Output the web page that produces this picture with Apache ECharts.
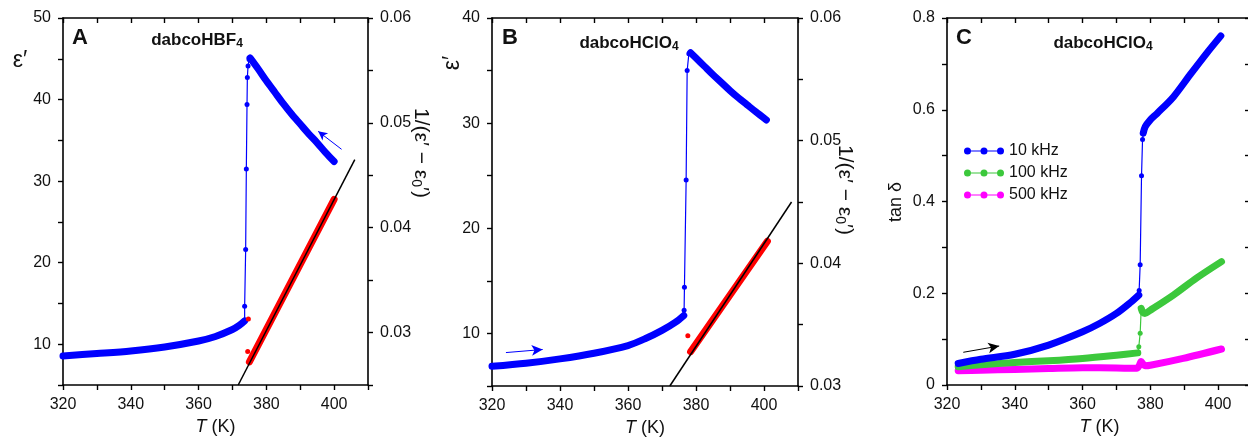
<!DOCTYPE html>
<html>
<head>
<meta charset="utf-8">
<title>dabco dielectric</title>
<script src="https://cdn.jsdelivr.net/npm/echarts@6/dist/echarts.min.js"></script>
<style>
html, body { margin: 0; padding: 0; background: #fff; }
#chart { width: 1248px; height: 439px; }
</style>
</head>
<body>
<div id="chart"></div>
<script>
// A: dabcoHBF4, eps' (left axis) and 1/(eps' - eps0') (right axis)
var epsLowA = [[320, 8.57], [330, 8.86], [340, 9.18], [350, 9.67], [360, 10.4], [365, 10.95], [370, 11.8], [372, 12.3], [373.6, 12.86]];
var epsJumpA = [[373.6, 12.86], [373.6, 14.66], [373.9, 21.6], [374.1, 31.5], [374.3, 39.4], [374.4, 42.7], [374.6, 44.1], [374.9, 44.9], [375.2, 45.1]];
var epsHighA = [[375.2, 45.1], [377.5, 43.8], [380, 42.3], [382.5, 40.9], [385, 39.5], [387.5, 38.2], [390, 37.0], [392.5, 35.8], [395, 34.7], [397.5, 33.5], [400, 32.4]];
var invDotsA = [[374.7, 0.0313], [374.5, 0.0282]];
var invA = [[375.0, 0.0272], [400, 0.0427]];
var fitA = [[371.7, 0.025], [406.1, 0.0465]];
var arrowA = [[402.2, 33.9], [395.3, 36.1]];

// B: dabcoHClO4
var epsLowB = [[320, 6.87], [330, 7.16], [340, 7.58], [350, 8.12], [360, 8.85], [365, 9.49], [370, 10.29], [374, 11.08], [376.4, 11.7]];
var epsJumpB = [[376.4, 11.7], [376.5, 12.2], [376.6, 14.4], [377.1, 24.6], [377.4, 35.0], [377.9, 36.6], [378.4, 36.7]];
var epsHighB = [[378.4, 36.7], [380, 36.2], [382.5, 35.4], [385, 34.6], [387.5, 33.85], [390, 33.1], [392.5, 32.4], [395, 31.75], [397.5, 31.1], [400.7, 30.3]];
var invDotsB = [[377.6, 0.0341]];
var invB = [[378.4, 0.0328], [401, 0.0418]];
var fitB = [[372.3, 0.030], [408.1, 0.0450]];
var arrowB = [[324.1, 8.18], [334.9, 8.47]];

// C: tan delta of dabcoHClO4 at three frequencies
var tan10Low = [[323.3, 0.047], [330, 0.056], [340, 0.067], [350, 0.087], [360, 0.116], [365, 0.134], [370, 0.156], [374, 0.179], [376.6, 0.196]];
var tan10Jump = [[376.6, 0.196], [376.7, 0.206], [377.0, 0.262], [377.4, 0.456], [377.7, 0.535], [377.9, 0.549]];
var tan10High = [[377.9, 0.549], [378.5, 0.563], [380, 0.578], [382, 0.592], [386.8, 0.628], [391.7, 0.676], [396.6, 0.723], [400.8, 0.761]];
var tan100Low = [[323.3, 0.040], [330, 0.044], [340, 0.049], [350, 0.053], [360, 0.058], [370, 0.065], [376.3, 0.070]];
var tan100Jump = [[376.3, 0.070], [376.6, 0.0835], [377.0, 0.113], [377.3, 0.165]];
var tan100High = [[377.3, 0.167], [377.8, 0.158], [378.4, 0.156], [380, 0.163], [386.8, 0.196], [393.6, 0.233], [401, 0.269]];
var tan500 = [[323.3, 0.031], [330, 0.032], [340, 0.034], [350, 0.036], [360, 0.0377], [370, 0.037], [376, 0.0364], [376.7, 0.042], [377.3, 0.051], [377.8, 0.046], [378.4, 0.042], [380, 0.043], [389.7, 0.058], [401, 0.0785]];
var arrowC = [[324.8, 0.0713], [335.4, 0.085]];

var freqNames = ['10 kHz', '100 kHz', '500 kHz'];

var FONT = 'Liberation Sans, Arial, Helvetica, sans-serif';
var BLUE = '#0000ff', RED = '#ff0000', GREEN = '#3cc83c', MAGENTA = '#ff00ff';

function onStep(v, step) {
  return Math.abs(v / step - Math.round(v / step)) < 1e-6;
}

function bottomAxis(g) {
  return {
    type: 'value', gridIndex: g, position: 'bottom', min: 320, max: 410, interval: 10,
    name: '{i|T} (K)', nameLocation: 'middle', nameGap: 32,
    nameTextStyle: { fontFamily: FONT, fontSize: 18, color: '#111',
      rich: { i: { fontFamily: FONT, fontSize: 18, fontStyle: 'italic', color: '#111' } } },
    axisLine: { onZero: false, lineStyle: { color: '#000', width: 1.6 } },
    axisTick: { inside: false, length: 5, lineStyle: { color: '#000', width: 1.4 } },
    axisLabel: { margin: 12, fontFamily: FONT, fontSize: 16, color: '#111',
      formatter: function (v) { return onStep(v, 20) ? String(v) : ''; } },
    splitLine: { show: false }
  };
}

function topAxis(g) {
  return {
    type: 'value', gridIndex: g, position: 'top', min: 320, max: 410, interval: 10,
    axisLine: { onZero: false, lineStyle: { color: '#000', width: 1.6 } },
    axisTick: { inside: true, length: 5, lineStyle: { color: '#000', width: 1.4 } },
    axisLabel: { show: false },
    splitLine: { show: false }
  };
}

function yAxis(g, pos, min, max, step, labelStep, digits, tickInside, showLabel) {
  return {
    type: 'value', gridIndex: g, position: pos, min: min, max: max, interval: step,
    axisLine: { onZero: false, lineStyle: { color: '#000', width: 1.6 } },
    axisTick: { inside: tickInside, length: tickInside ? 7 : 5, lineStyle: { color: '#000', width: 1.4 } },
    axisLabel: { show: showLabel, margin: 12, fontFamily: FONT, fontSize: 16, color: '#111',
      formatter: function (v) {
        if (!onStep(v, labelStep)) return '';
        return v === 0 ? '0' : v.toFixed(digits);
      } },
    splitLine: { show: false }
  };
}

function band(name, data, color, xi, yi) {
  return {
    name: name, type: 'line', xAxisIndex: xi, yAxisIndex: yi, data: data,
    symbol: 'none', silent: true, z: 2, smooth: 0.3,
    lineStyle: { color: color, width: 7, cap: 'round', join: 'round' },
    itemStyle: { color: color }
  };
}

function dots(data, color, xi, yi, lineWidth) {
  return {
    type: 'line', xAxisIndex: xi, yAxisIndex: yi, data: data,
    symbol: 'circle', symbolSize: 5, showSymbol: true, silent: true, z: 3,
    lineStyle: { color: color, width: lineWidth, opacity: lineWidth ? 1 : 0 },
    itemStyle: { color: color }
  };
}

function fit(data, xi, yi) {
  return {
    type: 'line', xAxisIndex: xi, yAxisIndex: yi, data: data,
    symbol: 'none', silent: true, z: 5,
    lineStyle: { color: '#000', width: 1.5 }
  };
}

function arrow(data, color, size) {
  return {
    silent: true, symbol: ['none', 'arrow'], symbolSize: size,
    label: { show: false }, lineStyle: { color: color, width: 1, type: 'solid' },
    data: [[{ coord: data[0] }, { coord: data[1] }]]
  };
}

function label(text, x, y, size, weight, rot, rich) {
  return {
    type: 'text', x: x, y: y, rotation: rot || 0, silent: true,
    style: { text: text, fontFamily: FONT, fontSize: size, fontWeight: weight || 'normal',
      fill: '#111', align: 'center', verticalAlign: 'middle', rich: rich || {} }
  };
}

var subRich = function (size, bold) {
  return {
    m: { fontFamily: FONT, fontSize: size, fontWeight: bold ? 'bold' : 'normal', lineHeight: size + 3 },
    s: { fontFamily: FONT, fontSize: Math.round(size * 0.68), fontWeight: bold ? 'bold' : 'normal',
      lineHeight: 8, verticalAlign: 'bottom' }
  };
};

var legendIcon = 'path://M0,2.9H40V4.1H0Z M0,3.5A3.5,3.5 0 1 1 7,3.5A3.5,3.5 0 1 1 0,3.5Z ' +
  'M16.5,3.5A3.5,3.5 0 1 1 23.5,3.5A3.5,3.5 0 1 1 16.5,3.5Z M33,3.5A3.5,3.5 0 1 1 40,3.5A3.5,3.5 0 1 1 33,3.5Z';

var highA = band('', epsHighA, BLUE, 0, 0);
highA.markLine = arrow(arrowA, BLUE, [7, 9]);
var lowB = band('', epsLowB, BLUE, 2, 2);
lowB.markLine = arrow(arrowB, BLUE, [8, 11]);
var low10 = band(freqNames[0], tan10Low, BLUE, 4, 4);
low10.markLine = arrow(arrowC, '#000', [8, 11]);

var chart = echarts.init(document.getElementById('chart'));
chart.setOption({
  animation: false,
  backgroundColor: '#fff',
  grid: [
    { left: 63, top: 18, width: 305, height: 367, outerBoundsMode: 'none', containLabel: false },
    { left: 492, top: 18, width: 306, height: 368, outerBoundsMode: 'none', containLabel: false },
    { left: 947, top: 18, width: 305, height: 367, outerBoundsMode: 'none', containLabel: false }
  ],
  xAxis: [bottomAxis(0), topAxis(0), bottomAxis(1), topAxis(1), bottomAxis(2), topAxis(2)],
  yAxis: [
    yAxis(0, 'left', 5, 50, 5, 10, 0, false, true),
    yAxis(0, 'right', 0.025, 0.06, 0.005, 0.01, 2, false, true),
    yAxis(1, 'left', 5, 40, 5, 10, 0, false, true),
    yAxis(1, 'right', 0.03, 0.06, 0.005, 0.01, 2, false, true),
    yAxis(2, 'left', 0, 0.8, 0.1, 0.2, 1, false, true),
    yAxis(2, 'right', 0, 0.8, 0.1, 0.2, 1, true, false)
  ],
  legend: {
    data: freqNames.map(function (n) { return { name: n, icon: legendIcon }; }),
    orient: 'vertical', left: 959, top: 138, itemWidth: 40, itemHeight: 7, itemGap: 6,
    selectedMode: false,
    textStyle: { fontFamily: FONT, fontSize: 16, color: '#111' }
  },
  series: [
    band('', epsLowA, BLUE, 0, 0),
    dots(epsJumpA, BLUE, 0, 0, 1.2),
    highA,
    band('', invA, RED, 0, 1),
    dots(invDotsA, RED, 0, 1, 0),
    fit(fitA, 0, 1),

    lowB,
    dots(epsJumpB, BLUE, 2, 2, 1.2),
    band('', epsHighB, BLUE, 2, 2),
    band('', invB, RED, 2, 3),
    dots(invDotsB, RED, 2, 3, 0),
    fit(fitB, 2, 3),

    band(freqNames[2], tan500, MAGENTA, 4, 4),
    band(freqNames[1], tan100Low, GREEN, 4, 4),
    dots(tan100Jump, GREEN, 4, 4, 1.2),
    band('', tan100High, GREEN, 4, 4),
    low10,
    dots(tan10Jump, BLUE, 4, 4, 1.2),
    band('', tan10High, BLUE, 4, 4)
  ],
  graphic: [
    label('A', 80, 38, 22, 'bold'),
    label('B', 510, 38, 22, 'bold'),
    label('C', 964, 38, 22, 'bold'),
    label('{m|dabcoHBF}{s|4}', 197, 40, 17, 'bold', 0, subRich(17, true)),
    label('{m|dabcoHClO}{s|4}', 629, 43, 17, 'bold', 0, subRich(17, true)),
    label('{m|dabcoHClO}{s|4}', 1103, 43, 17, 'bold', 0, subRich(17, true)),
    label('\u03b5\u2032', 20, 61, 23),
    label('\u03b5\u2032', 453, 63, 23, 'normal', Math.PI / 2),
    label('tan \u03b4', 896, 202, 18, 'normal', Math.PI / 2),
    label('{m|1/(\u03b5\u2032 \u2212 \u03b5}{s|0}{m|\u2032)}', 421, 153, 21, 'normal', -Math.PI / 2, subRich(21, false)),
    label('{m|1/(\u03b5\u2032 \u2212 \u03b5}{s|0}{m|\u2032)}', 845, 190, 21, 'normal', -Math.PI / 2, subRich(21, false))
  ]
});
</script>
</body>
</html>
